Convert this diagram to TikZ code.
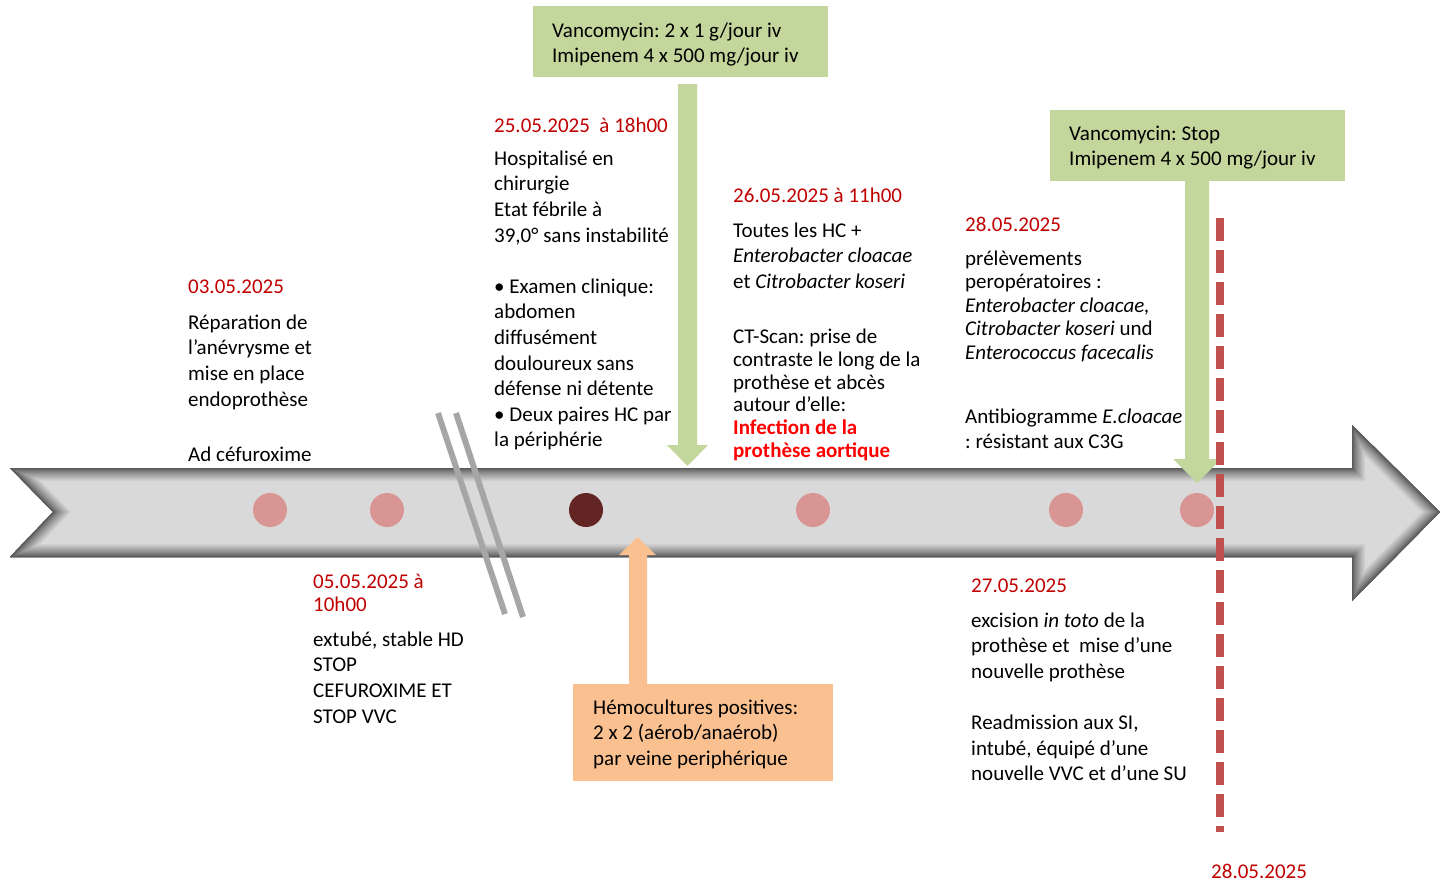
\documentclass[tikz,border=0pt]{standalone}
\usepackage{fontspec}
\setmainfont{Carlito}
\usetikzlibrary{calc}
\frenchspacing

\definecolor{datered}{HTML}{C00000}
\definecolor{alertred}{HTML}{FF0000}
\definecolor{boxgreen}{HTML}{C3D69B}
\definecolor{boxorange}{HTML}{FAC090}
\definecolor{tlfill}{HTML}{D9D9D9}
\definecolor{tledge}{HTML}{5A5A5A}
\definecolor{dotpink}{HTML}{D99594}
\definecolor{dotdark}{HTML}{632523}
\definecolor{breakgray}{HTML}{A6A6A6}
\definecolor{dashred}{HTML}{C0504D}

% strut for the first line of a text block (top edge = baseline - 18pt)
\newcommand\fs{\rule{0pt}{18pt}}

\begin{document}
\begin{tikzpicture}[x=1pt,y=-1pt,
  tx/.style={anchor=north west, inner sep=0pt, align=left,
             font=\fontsize{21}{25.6}\selectfont},
  datetx/.style={tx, text=datered},
  greenbox/.style={anchor=north west, fill=boxgreen, inner sep=0pt,
                   minimum width=295pt, minimum height=71pt},
  orangebox/.style={anchor=north west, fill=boxorange, inner sep=0pt,
                    minimum width=260pt, minimum height=97pt},
  event/.style={circle, fill=dotpink, minimum size=34pt, inner sep=0pt},
  keyevent/.style={event, fill=dotdark},
  breakmark/.style={draw=breakgray, line width=6pt},
  cutline/.style={draw=dashred, line width=8pt, dash pattern=on 23pt off 9pt},
]
\useasboundingbox (0,0) rectangle (1441,886);

% ---- timeline arrow with soft inner shadow ----
\def\tlpath{(10,468) -- (1352,468) -- (1352,425) -- (1440,512) -- (1352,601)
  -- (1352,557) -- (10,557) -- (53,512) -- cycle}
\begin{scope}
  \clip \tlpath;
  \fill[tlfill] \tlpath;
  \foreach \i [evaluate=\i as \p using int(100*((\i-1)/13)^0.8)] in {14,13,...,1}
    \draw[line width=2*\i pt, line join=miter, color=tlfill!\p!tledge] \tlpath;
\end{scope}

% ---- events on the timeline ----
\node[event] (e1) at (270,510) {};
\node[event] (e2) at (387,510) {};
\node[keyevent] (e3) at (586,510) {};
\node[event] (e4) at (813,510) {};
\node[event] (e5) at (1066,510) {};
\node[event] (e6) at (1197,510) {};

% ---- time break ----
\coordinate (b1t) at (438,413); \coordinate (b1b) at (505,614);
\coordinate (b2t) at (456,413); \coordinate (b2b) at (523,617);
\draw[breakmark] (b1t) -- (b1b);
\draw[breakmark] (b2t) -- (b2b);

% ---- antibiotic boxes and their arrows ----
\node[greenbox] (g1) at (533,6) {};
\node[tx] (g1t) at ($(g1.north west)+(19,13)$)
  {\fs Vancomycin: 2 x 1 g/jour iv\\ Imipenem 4 x 500 mg/jour iv};
\fill[boxgreen] (678,84) -- (697,84) -- (697,445) -- (708,445) -- (687.5,466)
  -- (667,445) -- (678,445) -- cycle;

\node[greenbox] (g2) at (1050,110) {};
\node[tx] (g2t) at ($(g2.north west)+(19,12)$)
  {\fs Vancomycin: Stop\\ Imipenem 4 x 500 mg/jour iv};
\fill[boxgreen] (1185,181) -- (1209,181) -- (1209,459) -- (1221,459) -- (1197,483)
  -- (1173,459) -- (1185,459) -- cycle;

\node[orangebox] (o1) at (573,684) {};
\node[tx, font=\fontsize{21}{25.5}\selectfont] (o1t) at ($(o1.north west)+(20,12)$)
  {\fs Hémocultures positives:\\ 2 x 2 (aérob/anaérob)\\ par veine periphérique};
\fill[boxorange] (629,684) -- (647,684) -- (647,555) -- (656,555) -- (637.5,537)
  -- (619,555) -- (629,555) -- cycle;

% ---- 03.05.2025 ----
\node[datetx] (d1) at (188,275) {\fs 03.05.2025};
\node[tx] (t1) at (188,311)
  {\fs Réparation de\\ l’anévrysme et\\ mise en place\\ endoprothèse\\[29.5pt] Ad céfuroxime};

% ---- 05.05.2025 ----
\node[datetx, font=\fontsize{21}{23}\selectfont] (d2) at (313,570) {\fs 05.05.2025 à\\ 10h00};
\node[tx] (t2) at (313,628)
  {\fs extubé, stable HD\\ STOP\\ CEFUROXIME ET\\ STOP VVC};

% ---- 25.05.2025 ----
\node[datetx] (d3) at (494,114) {\fs 25.05.2025\ \ à 18h00};
\node[tx] (t3) at (494,147)
  {\fs Hospitalisé en\\ chirurgie\\ Etat fébrile à\\ 39,0° sans instabilité\\[25.6pt]
   • Examen clinique:\\ abdomen\\ diffusément\\ douloureux sans\\ défense ni détente\\
   • Deux paires HC par\\ la périphérie};

% ---- 26.05.2025 ----
\node[datetx] (d4) at (733,184) {\fs 26.05.2025 à 11h00};
\node[tx] (t4a) at (733,219)
  {\fs Toutes les HC +\\ \textit{Enterobacter cloacae}\\ et \textit{Citrobacter koseri}};
\node[tx, font=\fontsize{21}{22.9}\selectfont] (t4b) at (733,325)
  {\fs CT-Scan: prise de\\ contraste le long de la\\ prothèse et abcès\\ autour d’elle:\\
   \textcolor{alertred}{\bfseries Infection de la}\\ \textcolor{alertred}{\bfseries prothèse aortique}};

% ---- 28.05.2025 (samples) ----
\node[datetx] (d5) at (965,213) {\fs 28.05.2025};
\node[tx, font=\fontsize{21}{23.5}\selectfont] (t5a) at (965,247)
  {\fs prélèvements\\ peropératoires :\\ \textit{Enterobacter cloacae,}\\
   \textit{Citrobacter koseri} und\\ \textit{Enterococcus facecalis}};
\node[tx, font=\fontsize{21}{25}\selectfont] (t5b) at (965,405)
  {\fs Antibiogramme \textit{E.cloacae}\\ : résistant aux C3G};

% ---- 27.05.2025 ----
\node[datetx] (d6) at (971,574) {\fs 27.05.2025};
\node[tx] (t6) at (971,609)
  {\fs excision \textit{in toto} de la\\ prothèse et\ \ mise d’une\\ nouvelle prothèse\\[25.6pt]
   Readmission aux SI,\\ intubé, équipé d’une\\ nouvelle VVC et d’une SU};

% ---- current date marker ----
\coordinate (ct) at (1220,218);
\coordinate (cb) at (1220,832);
\draw[cutline] (ct) -- (cb);
\node[datetx] (d7) at (1211,860) {\fs 28.05.2025};

\end{tikzpicture}
\end{document}
